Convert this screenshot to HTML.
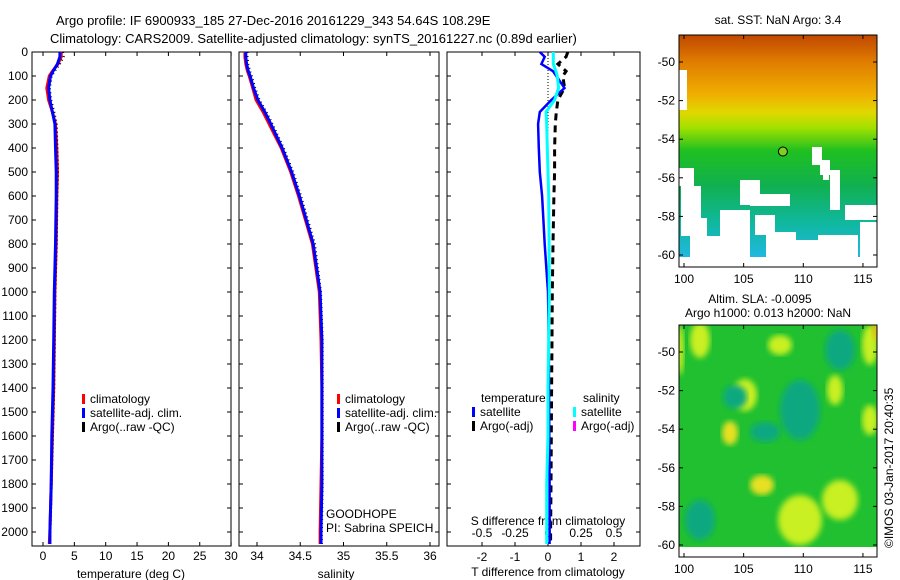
<!DOCTYPE html>
<html><head><meta charset="utf-8"><style>
body{margin:0;background:#fff;}
svg{display:block;font-family:"Liberation Sans",sans-serif;}
text{fill:#000;}
</style></head><body>
<svg id="fig" width="900" height="580" viewBox="0 0 900 580">
<defs>
<linearGradient id="sstg" x1="0" y1="0" x2="0" y2="1">
<stop offset="0" stop-color="#c04800"/><stop offset="0.12" stop-color="#e07c00"/><stop offset="0.27" stop-color="#f0b000"/>
<stop offset="0.35" stop-color="#e0d800"/><stop offset="0.42" stop-color="#a0e000"/><stop offset="0.52" stop-color="#20c020"/>
<stop offset="0.68" stop-color="#10b050"/><stop offset="0.85" stop-color="#10b8a0"/><stop offset="1" stop-color="#20b8e0"/>
</linearGradient>
<filter id="blur"><feGaussianBlur stdDeviation="3"/></filter>
<clipPath id="c2"><rect x="679" y="325" width="198" height="222"/></clipPath>
</defs>
<text x="56" y="25" font-size="13">Argo profile: IF 6900933_185 27-Dec-2016 20161229_343 54.64S 108.29E</text>
<text x="50" y="43" font-size="13">Climatology: CARS2009. Satellite-adjusted climatology: synTS_20161227.nc (0.89d earlier)</text>
<g id="g"></g>
</svg>
<script>
// ---- data ----
const depths   = [0, 20, 50, 80, 100, 150, 200, 250, 300, 400, 500, 600, 800, 1000, 1200, 1400, 1600, 1800, 2000, 2050];
const tempClim = [2.9, 2.9, 2.4, 1.5, 1.0, 0.6, 0.9, 1.5, 2.0, 2.2, 2.3, 2.2, 2.1, 1.9, 1.8, 1.7, 1.5, 1.3, 1.1, 1.0];
const tempSat  = [2.7, 2.7, 2.3, 1.6, 1.2, 0.9, 1.1, 1.5, 1.9, 2.0, 2.1, 2.1, 2.0, 1.8, 1.7, 1.6, 1.4, 1.3, 1.1, 1.1];
const tempArgo = [3.2, 3.3, 2.7, 1.9, 1.4, 1.1, 1.3, 1.8, 2.2, 2.3, 2.4, 2.3, 2.2, 2.0, 1.9, 1.8, 1.6, 1.4, 1.2, 1.2];
const salClim  = [33.86, 33.86, 33.87, 33.89, 33.91, 33.95, 33.99, 34.07, 34.14, 34.28, 34.39, 34.48, 34.64, 34.72, 34.74, 34.75, 34.75, 34.74, 34.73, 34.73];
const salSat   = [33.87, 33.87, 33.88, 33.9, 33.92, 33.96, 34.01, 34.09, 34.16, 34.29, 34.4, 34.49, 34.65, 34.73, 34.75, 34.75, 34.75, 34.75, 34.74, 34.74];
const salArgo  = [33.89, 33.89, 33.9, 33.92, 33.94, 33.98, 34.03, 34.11, 34.18, 34.31, 34.42, 34.51, 34.67, 34.74, 34.76, 34.76, 34.76, 34.76, 34.75, 34.75];
const tDiffSat  = [-0.25, -0.1, -0.2, 0.15, 0.25, 0.5, 0.1, -0.25, -0.3, -0.28, -0.25, -0.18, -0.1, 0.0, 0.02, 0.03, 0.04, 0.05, 0.05, 0.05];
const tDiffArgo = [0.6, 0.55, 0.3, 0.55, 0.45, 0.5, 0.3, 0.25, 0.22, 0.2, 0.2, 0.18, 0.15, 0.13, 0.12, 0.11, 0.1, 0.09, 0.08, 0.08];
const sDiffSat  = [0.04, 0.04, 0.04, 0.06, 0.07, 0.08, 0.05, -0.015, -0.01, -0.005, 0.0, 0.005, 0.008, 0.01, 0.005, 0.0, 0.0, -0.01, -0.01, -0.01];
const depthTicks = [0,100,200,300,400,500,600,700,800,900,1000,1100,1200,1300,1400,1500,1600,1700,1800,1900,2000];
const tempTicks = [0,5,10,15,20,25,30];
const salTicks = [34,34.5,35,35.5,36];
const tdTicks = [-2,-1,0,1,2];
const sdTicks = [-0.5,-0.25,0,0.25,0.5];
const sdLabels = ["-0.5","-0.25","0","0.25","0.5"];
const latTicks = [-50,-52,-54,-56,-58,-60];
const lonTicks = [100,105,110,115];

const NS="http://www.w3.org/2000/svg", G=document.getElementById('g');
function el(tag, attrs, parent, txt){const e=document.createElementNS(NS,tag);for(const k in attrs)e.setAttribute(k,attrs[k]);if(txt!==undefined)e.textContent=txt;(parent||G).appendChild(e);return e;}
const Y0=52, YB=546;
const yD = d => Y0 + d*0.24;
const xT = t => 43 + t*6.27;
const xS = s => 257 + (s-34)*86.5;
const xTD = t => 548 + t*33;
const xSD = s => 548 + s*132;

function frame(x0,x1,name){
  const r=el('rect',{x:x0,y:Y0,width:x1-x0,height:YB-Y0,fill:'none',stroke:'#000','stroke-width':1});
  
  
}
function yticks(x0,x1,labels){
  depthTicks.forEach(d=>{const y=yD(d);
    el('line',{x1:x0,y1:y,x2:x0+4,y2:y,stroke:'#000'});el('line',{x1:x1,y1:y,x2:x1-4,y2:y,stroke:'#000'});
    if(labels){const t=el('text',{x:x0-4,y:y+4,'font-size':12,'text-anchor':'end'},G,d);
      
      }
  });
}
function xticks(vals,fx,labs,ly,top){
  vals.forEach((v,i)=>{const x=fx(v);
    el('line',{x1:x,y1:YB,x2:x,y2:YB-4,stroke:'#000'});
    if(top) el('line',{x1:x,y1:Y0,x2:x,y2:Y0+4,stroke:'#000'});
    const t=el('text',{x:x,y:ly,'font-size':12,'text-anchor':'middle'},G,labs?labs[i]:v);
    
    
  });
}
function line(xs,fx,color,w,name,dash){
  const pts=depths.map((d,i)=>fx(xs[i]).toFixed(1)+','+yD(d).toFixed(1)).join(' ');
  const p=el('polyline',{points:pts,fill:'none',stroke:color,'stroke-width':w,'stroke-dasharray':dash||'none'});
  
  
}
function legend(x,y,items){
  items.forEach((it,i)=>{const yy=y+i*14;
    el('rect',{x:x,y:yy-9,width:3,height:10,fill:it[1]});
    const t=el('text',{x:x+8,y:yy,'font-size':12},G,it[0]);
    
    
  });
}
// Panel 1 temperature
frame(32,231,'temperature-panel');
yticks(32,231,true);
xticks(tempTicks,xT,null,560,true);
line(tempClim,xT,'#ff0000',3,'temperature-climatology-line');
line(tempArgo,xT,'#000',2,'temperature-argo-line','1 3');
line(tempSat,xT,'#0000ff',3,'temperature-satellite-line');
el('text',{x:131,y:578,'font-size':12,'text-anchor':'middle',},G,'temperature (deg C)');
legend(82,403,[['climatology','#f00'],['satellite-adj. clim.','#00f'],['Argo(..raw -QC)','#000']]);
// Panel 2 salinity
frame(239,439,'salinity-panel');
yticks(239,439,false);
xticks(salTicks,xS,null,560,true);
line(salClim,xS,'#ff0000',3,'salinity-climatology-line');
line(salArgo,xS,'#000',2,'salinity-argo-line','1 3');
line(salSat,xS,'#0000ff',3,'salinity-satellite-line');
el('text',{x:336,y:578,'font-size':12,'text-anchor':'middle',},G,'salinity');
legend(337,403,[['climatology','#f00'],['satellite-adj. clim.','#00f'],['Argo(..raw -QC)','#000']]);
el('text',{x:326,y:518,'font-size':12,},G,'GOODHOPE');
el('text',{x:326,y:532,'font-size':12,},G,'PI: Sabrina SPEICH');
// Panel 3 differences
frame(447,640,'difference-panel');
yticks(447,640,false);
tdTicks.forEach(v=>{const x=xTD(v);el('line',{x1:x,y1:YB,x2:x,y2:YB-4,stroke:'#000'});el('line',{x1:x,y1:Y0,x2:x,y2:Y0+4,stroke:'#000'});
  const t=el('text',{x:x,y:561,'font-size':12,'text-anchor':'middle'},G,v);
  
  });
sdTicks.forEach((v,i)=>{const t=el('text',{x:xSD(v),y:537,'font-size':12,'text-anchor':'middle'},G,sdLabels[i]);
  
  });
el('text',{x:548,y:525,'font-size':12,'text-anchor':'middle',},G,'S difference from climatology');
el('text',{x:548,y:576,'font-size':12,'text-anchor':'middle',},G,'T difference from climatology');
el('line',{x1:xTD(0),y1:Y0,x2:xTD(0),y2:yD(450),stroke:'#000','stroke-dasharray':'1 2'});
line(tDiffArgo,xTD,'#000',3,'t-diff-argo-line','7 5');
line(tDiffSat,xTD,'#0000ff',2.5,'t-diff-satellite-line');
line(sDiffSat,xSD,'#00ffff',3,'s-diff-satellite-line');
el('text',{x:481,y:402,'font-size':12,},G,'temperature');
el('text',{x:583,y:402,'font-size':12,},G,'salinity');
legend(472,416,[['satellite','#00f'],['Argo(-adj)','#000']]);
legend(573,416,[['satellite','#0ff'],['Argo(-adj)','#f0f']]);

// Maps
const xL = lon => 684 + (lon-100)*11.93;
function mapAxes(y0,y1,latY,name){
  const r=el('rect',{x:679,y:y0,width:198,height:y1-y0,fill:'none',stroke:'#000'});
  
  
  latTicks.forEach(l=>{const y=latY(l);el('line',{x1:679,y1:y,x2:683,y2:y,stroke:'#000'});el('line',{x1:877,y1:y,x2:873,y2:y,stroke:'#000'});
    const t=el('text',{x:675,y:y+4,'font-size':12,'text-anchor':'end'},G,l);
    
    });
  lonTicks.forEach(l=>{const x=xL(l);el('line',{x1:x,y1:y1,x2:x,y2:y1-4,stroke:'#000'});el('line',{x1:x,y1:y0,x2:x,y2:y0+4,stroke:'#000'});
    const t=el('text',{x:x,y:y1+16,'font-size':12,'text-anchor':'middle'},G,l);
    
    });
}
const lat1 = l => 62 + (-50-l)*19.3;
const lat2 = l => 352 + (-50-l)*19.3;
// SST map
el('rect',{x:679,y:35,width:198,height:222,fill:'url(#sstg)',});
const holes=[[679,70,8,40],[679,168,15,18],[681,186,20,50],[690,236,48,30],[740,180,20,25],[750,194,40,12],[720,210,30,60],[755,215,20,20],[695,218,12,40],[812,147,10,18],[820,160,10,15],[823,166,6,14],[830,170,10,40],[845,205,32,15],[860,222,17,35],[766,232,30,30],[776,262,30,5],[818,235,40,25],[840,246,15,12],[790,240,30,17],[679,257,198,10]];
holes.forEach(h=>{const r=el('rect',{x:h[0],y:h[1],width:h[2],height:h[3],fill:'#fff'});
  
  });
el('circle',{cx:xL(108.29),cy:lat1(-54.64),r:4.5,fill:'#80d020',stroke:'#000',});
mapAxes(35,267,lat1,'sst-map-frame');
el('text',{x:778,y:24,'font-size':12,'text-anchor':'middle',},G,'sat. SST: NaN Argo: 3.4');
// SLA map
const sg=el('g',{'clip-path':'url(#c2)',});
el('rect',{x:679,y:325,width:198,height:222,fill:'#20c030'},sg);
const blobs=[['#c8f020',700,340,10,18],['#c8f020',745,395,12,16],['#e8e020',730,433,8,12],['#e8e020',762,485,12,10],['#c8f020',800,520,22,25],['#c8f020',840,500,18,20],['#c8f020',870,345,8,20],['#f0c010',876,330,4,10],['#10a880',765,432,15,10],['#10a880',735,397,12,12],['#10a880',840,350,15,20],['#c8f020',780,345,12,10],['#10a880',700,520,15,20],['#c8f020',835,390,8,15],['#c8f020',870,420,8,15],['#10a880',800,410,20,30],['#c8f020',680,350,4,25]];
blobs.forEach(b=>{const e=el('ellipse',{cx:b[1],cy:b[2],rx:b[3],ry:b[4],fill:b[0],filter:'url(#blur)'},sg);
  
  });
mapAxes(325,557,lat2,'sla-map-frame');
el('text',{x:760,y:303,'font-size':12,'text-anchor':'middle',},G,'Altim. SLA: -0.0095');
el('text',{x:768,y:317,'font-size':12,'text-anchor':'middle',},G,'Argo h1000: 0.013 h2000: NaN');
el('text',{x:0,y:0,'font-size':12,transform:'translate(893,548) rotate(-90)',},G,'©IMOS 03-Jan-2017 20:40:35');
</script>
</body></html>
